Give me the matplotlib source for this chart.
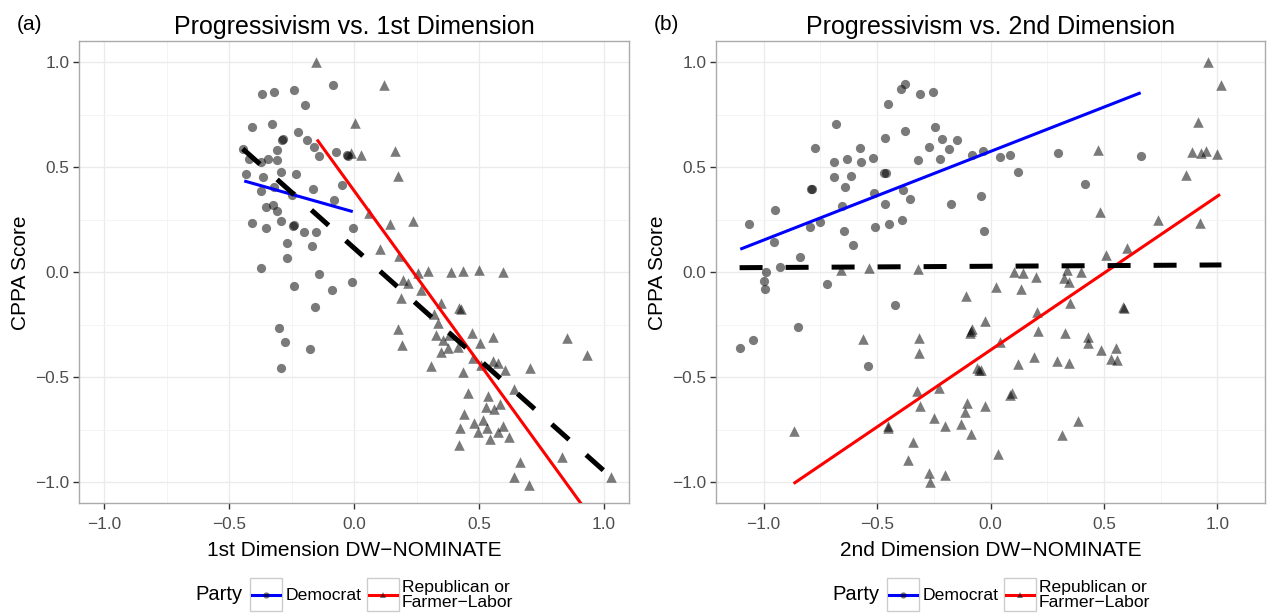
import matplotlib
matplotlib.use("Agg")
import matplotlib.pyplot as plt
from matplotlib.patches import Rectangle
from matplotlib.lines import Line2D
from matplotlib.ticker import MultipleLocator

plt.rcParams['font.family'] = ['Liberation Sans', 'DejaVu Sans']

# ---- data ----
# panel (a): 1st dimension DW-NOMINATE vs CPPA score
dem1_x = [-0.085, -0.368, -0.32, -0.241, -0.197, -0.41, -0.327, -0.225, -0.285, -0.29,
          -0.19, -0.159, -0.308, -0.445, -0.419, -0.372, -0.345, -0.309, -0.139, -0.072,
          -0.025, -0.03, -0.432, -0.363, -0.292, -0.232, -0.319, -0.372, -0.163, -0.047,
          -0.249, -0.079, -0.353, -0.323, -0.309, -0.408, -0.352, -0.292, -0.244, -0.24,
          -0.199, -0.152, -0.005, -0.269, -0.169, -0.269, -0.373, -0.139, -0.239, -0.088,
          -0.007, -0.155, -0.299, -0.275, -0.175, -0.291]
dem1_y = [0.893, 0.850, 0.858, 0.866, 0.797, 0.69, 0.705, 0.67, 0.635, 0.63,
          0.628, 0.595, 0.582, 0.587, 0.539, 0.523, 0.539, 0.534, 0.552, 0.571,
          0.555, 0.56, 0.47, 0.455, 0.478, 0.467, 0.408, 0.388, 0.399, 0.416,
          0.367, 0.346, 0.311, 0.322, 0.292, 0.236, 0.212, 0.244, 0.22, 0.225,
          0.191, 0.193, 0.209, 0.139, 0.126, 0.067, 0.019, -0.006, -0.064, -0.083,
          -0.048, -0.164, -0.266, -0.333, -0.367, -0.456]
rep1_x = [-0.152, 0.121, 0.003, -0.012, 0.029, 0.164, 0.175, 0.061, 0.143, 0.237,
          0.105, 0.179, 0.255, 0.295, 0.195, 0.215, 0.388, 0.435, 0.499, 0.595,
          0.268, 0.188, 0.348, 0.421, 0.426, 0.321, 0.335, 0.177, 0.192, 0.328,
          0.355, 0.381, 0.375, 0.348, 0.415, 0.472, 0.505, 0.556, 0.475, 0.508,
          0.555, 0.575, 0.605, 0.435, 0.308, 0.705, 0.851, 0.931, 0.639, 0.455,
          0.537, 0.528, 0.561, 0.585, 0.441, 0.481, 0.517, 0.532, 0.424, 0.495,
          0.545, 0.577, 0.597, 0.619, 0.419, 0.664, 0.832, 0.639, 0.701, 1.028]
rep1_y = [1.0, 0.893, 0.711, 0.57, 0.56, 0.579, 0.459, 0.281, 0.231, 0.244,
          0.109, 0.077, -0.003, 0.005, -0.035, -0.051, 0.0, 0.008, 0.013, 0.002,
          -0.083, -0.12, -0.147, -0.171, -0.175, -0.198, -0.243, -0.271, -0.346, -0.298,
          -0.322, -0.298, -0.362, -0.381, -0.354, -0.287, -0.338, -0.306, -0.41, -0.442,
          -0.422, -0.431, -0.466, -0.477, -0.446, -0.458, -0.314, -0.394, -0.558, -0.574,
          -0.59, -0.641, -0.649, -0.625, -0.676, -0.718, -0.705, -0.74, -0.742, -0.761,
          -0.793, -0.761, -0.732, -0.785, -0.82, -0.904, -0.88, -0.973, -1.013, -0.973]
# fitted lines (end points)
fit1_dem_x, fit1_dem_y = [-0.439, -0.005], [0.435, 0.289]
fit1_rep_x, fit1_rep_y = [-0.148, 1.028], [0.632, -1.298]
fit1_all_x, fit1_all_y = [-0.445, 1.028], [0.588, -0.975]

# panel (b): 2nd dimension DW-NOMINATE vs CPPA score
dem2_x = [-1.066, -0.948, -0.953, -0.926, -0.838, -0.988, -0.997, -0.996, -0.72, -0.792,
          -0.785, -0.772, -0.794, -0.753, -0.682, -0.691, -0.691, -0.632, -0.64, -0.613,
          -0.654, -0.647, -0.607, -0.576, -0.569, -0.516, -0.515, -0.51, -0.468, -0.462,
          -0.463, -0.451, -0.466, -0.449, -0.394, -0.375, -0.375, -0.387, -0.39, -0.353,
          -0.321, -0.309, -0.272, -0.254, -0.246, -0.224, -0.213, -0.181, -0.172, -0.149,
          -0.081, -0.044, -0.032, -0.028, 0.04, 0.085, 0.12, 0.298, 0.416, 0.663,
          -0.419, -0.848, -1.047, -1.106, -0.54]
dem2_y = [0.229, 0.297, 0.143, 0.027, 0.074, 0.0, -0.04, -0.081, -0.057, 0.397,
          0.397, 0.59, 0.217, 0.241, 0.708, 0.524, 0.455, 0.54, 0.408, 0.459,
          0.316, 0.198, 0.13, 0.59, 0.527, 0.543, 0.376, 0.217, 0.471, 0.471,
          0.641, 0.8, 0.324, 0.229, 0.871, 0.895, 0.673, 0.392, 0.249, 0.349,
          0.535, 0.849, 0.598, 0.86, 0.693, 0.538, 0.633, 0.586, 0.324, 0.63,
          0.559, 0.365, 0.578, 0.198, 0.548, 0.559, 0.479, 0.57, 0.42, 0.554,
          -0.156, -0.259, -0.322, -0.359, -0.446]
rep2_x = [-0.659, -0.537, -0.318, 0.025, -0.11, -0.025, -0.08, -0.085, -0.09, -0.562,
          -0.316, -0.316, -0.06, -0.05, -0.04, 0.044, -0.323, -0.312, -0.225, -0.25,
          -0.202, -0.128, -0.103, -0.113, -0.025, -0.088, -0.45, -0.45, -0.343, -0.363,
          -0.272, -0.265, -0.202, -0.868, 0.034, 0.959, 1.018, 0.916, 0.475, 0.89,
          0.926, 0.948, 1.0, 0.863, 0.481, 0.74, 0.923, 0.507, 0.603, 0.103,
          0.144, 0.199, 0.323, 0.345, 0.338, 0.397, 0.135, 0.35, 0.585, 0.59,
          0.203, 0.21, 0.328, 0.431, 0.431, 0.485, 0.554, 0.529, 0.559, 0.122,
          0.191, 0.294, 0.345, 0.087, 0.096, 0.385, 0.313]
rep2_y = [0.011, 0.019, 0.014, -0.072, -0.113, -0.232, -0.27, -0.28, -0.29, -0.318,
          -0.314, -0.386, -0.455, -0.463, -0.465, -0.33, -0.565, -0.635, -0.549, -0.692,
          -0.732, -0.722, -0.621, -0.664, -0.635, -0.77, -0.733, -0.74, -0.806, -0.894,
          -0.957, -1.0, -0.965, -0.756, -0.865, 1.003, 0.892, 0.714, 0.582, 0.574,
          0.567, 0.579, 0.563, 0.463, 0.289, 0.249, 0.233, 0.082, 0.114, 0.003,
          -0.005, -0.024, -0.029, -0.045, 0.011, 0.0, -0.081, -0.145, -0.164, -0.168,
          -0.188, -0.28, -0.291, -0.307, -0.338, -0.37, -0.359, -0.413, -0.418, -0.438,
          -0.402, -0.421, -0.433, -0.584, -0.576, -0.708, -0.775]
fit2_dem_x, fit2_dem_y = [-1.103, 0.662], [0.11, 0.855]
fit2_rep_x, fit2_rep_y = [-0.868, 1.012], [-1.006, 0.371]
fit2_all_x, fit2_all_y = [-1.106, 1.018], [0.022, 0.035]

tick_vals = [-1.0, -0.5, 0.0, 0.5, 1.0]
tick_labels = ["\u22121.0", "\u22120.5", "0.0", "0.5", "1.0"]

# ---- figure ----
W, H = 1268, 613
fig = plt.figure(figsize=(W / 100, H / 100), dpi=100)


def fx(px):
    return px / W


def fy(py):
    return 1 - py / H


PT_COL = (0, 0, 0, 0.52)


def draw_panel(ax, dem_x, dem_y, rep_x, rep_y, fits, xlim, title, xlabel):
    ax.scatter(dem_x, dem_y, s=44, marker="o", color=PT_COL, linewidths=0, zorder=2)
    ax.scatter(rep_x, rep_y, s=58, marker="^", color=PT_COL, linewidths=0, zorder=2)
    (dx, dy), (rx, ry), (ax_, ay_) = fits
    ax.plot(dx, dy, color="#0000FF", lw=2.2, zorder=3, solid_capstyle="butt")
    ax.plot(rx, ry, color="#FF0000", lw=2.2, zorder=3, solid_capstyle="butt")
    ax.plot(ax_, ay_, color="black", lw=3.6, dashes=(4.6, 4.6), zorder=3)

    ax.set_xlim(*xlim)
    ax.set_ylim(-1.1, 1.1)
    ax.set_xticks(tick_vals, tick_labels)
    ax.set_yticks(tick_vals, tick_labels)
    ax.xaxis.set_minor_locator(MultipleLocator(0.25))
    ax.yaxis.set_minor_locator(MultipleLocator(0.25))
    ax.grid(which="major", color="#EBEBEB", lw=1.0, zorder=0)
    ax.grid(which="minor", color="#F4F4F4", lw=0.7, zorder=0)
    ax.set_axisbelow(True)
    ax.tick_params(which="major", length=4, width=1, color="#333333",
                   labelsize=12.4, labelcolor="#4D4D4D")
    ax.tick_params(axis="x", which="major", pad=6)
    ax.tick_params(axis="y", which="major", pad=3)
    ax.tick_params(which="minor", length=0)
    for sp in ax.spines.values():
        sp.set_color("#AAAAAA")
        sp.set_linewidth(1.0)
    ax.set_title(title, fontsize=18, pad=5)
    ax.set_xlabel(xlabel, fontsize=15, labelpad=6)
    ax.set_ylabel("CPPA Score", fontsize=15, labelpad=4)


def draw_legend(dx):
    fig.text(fx(195 + dx), fy(595), "Party", fontsize=14.5, ha="left", va="center")
    for bx, col, mk, ms in [(250, "#0000FF", "o", 4.5), (367, "#FF0000", "^", 5)]:
        fig.add_artist(Rectangle((fx(bx + dx), fy(611)), 32 / W, 33 / H,
                                 transform=fig.transFigure, facecolor="white",
                                 edgecolor="#CCCCCC", lw=1))
        fig.add_artist(Line2D([fx(bx + 2 + dx), fx(bx + 30 + dx)], [fy(594.5)] * 2,
                              transform=fig.transFigure, color=col, lw=2.2))
        fig.add_artist(Line2D([fx(bx + 16 + dx)], [fy(594.5)], transform=fig.transFigure,
                              marker=mk, markersize=ms, color=PT_COL, markeredgewidth=0,
                              linestyle="none"))
    fig.text(fx(286 + dx), fy(595), "Democrat", fontsize=12.6, ha="left", va="center")
    fig.text(fx(402 + dx), fy(595), "Republican or\nFarmer\u2212Labor", fontsize=12.6,
             ha="left", va="center", linespacing=0.95)


ax1 = fig.add_axes([fx(79), fy(503.3), (629 - 79) / W, (503.3 - 41.3) / H])
ax2 = fig.add_axes([fx(716), fy(503.3), (1265 - 716) / W, (503.3 - 41.3) / H])

draw_panel(ax1, dem1_x, dem1_y, rep1_x, rep1_y,
           [(fit1_dem_x, fit1_dem_y), (fit1_rep_x, fit1_rep_y), (fit1_all_x, fit1_all_y)],
           (-1.1, 1.1), "Progressivism vs. 1st Dimension", "1st Dimension DW\u2212NOMINATE")
draw_panel(ax2, dem2_x, dem2_y, rep2_x, rep2_y,
           [(fit2_dem_x, fit2_dem_y), (fit2_rep_x, fit2_rep_y), (fit2_all_x, fit2_all_y)],
           (-1.21, 1.21), "Progressivism vs. 2nd Dimension", "2nd Dimension DW\u2212NOMINATE")

fig.text(fx(17), fy(25), "(a)", fontsize=15, ha="left", va="center")
fig.text(fx(654), fy(25), "(b)", fontsize=15, ha="left", va="center")

draw_legend(0)
draw_legend(637)

fig.savefig("out.png", dpi=100)
